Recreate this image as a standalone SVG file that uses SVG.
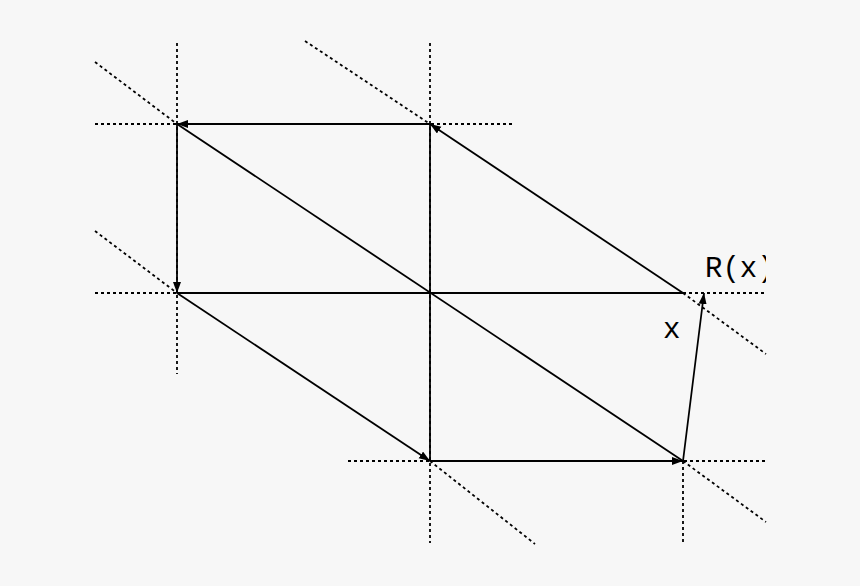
<svg xmlns="http://www.w3.org/2000/svg" width="860" height="586" viewBox="0 0 860 586">
<style>
.dot{stroke:#000;stroke-width:1.8;stroke-dasharray:3 3;fill:none}
.ln{stroke:#000;stroke-width:1.8;fill:none}
.arr{marker-end:url(#ah)}
.lbl{font-family:"Liberation Mono","DejaVu Sans Mono",monospace;font-size:29px;fill:#000}
</style>
<defs>
<marker id="ah" markerUnits="userSpaceOnUse" markerWidth="12" markerHeight="9" refX="11" refY="4" orient="auto">
<path d="M0,0 L11,4 L0,8 z" fill="#000"/>
</marker>
<clipPath id="clipR"><rect x="0" y="0" width="766" height="586"/></clipPath>
</defs>
<rect width="860" height="586" fill="#f7f7f7"/>
<g id="guides">
<line class="dot" x1="177" y1="43" x2="177" y2="374"/>
<line class="dot" x1="430" y1="43" x2="430" y2="543"/>
<line class="dot" x1="683" y1="461" x2="683" y2="543"/>
<line class="dot" x1="95" y1="124" x2="512" y2="124"/>
<line class="dot" x1="95" y1="293" x2="177" y2="293"/>
<line class="dot" x1="683" y1="293" x2="766" y2="293"/>
<line class="dot" x1="348" y1="461" x2="766" y2="461"/>
<line class="dot" x1="95" y1="62" x2="177" y2="124"/>
<line class="dot" x1="95" y1="231" x2="177" y2="293"/>
<line class="dot" x1="305" y1="41" x2="430" y2="124"/>
<line class="dot" x1="430" y1="461" x2="535" y2="544"/>
<line class="dot" x1="683" y1="293" x2="766" y2="354"/>
<line class="dot" x1="683" y1="461" x2="766" y2="522"/>
</g>
<g id="connectors">
<line class="ln" x1="177" y1="124" x2="683" y2="461"/>
<line class="ln" x1="177" y1="293" x2="683" y2="293"/>
<line class="ln" x1="430" y1="124" x2="430" y2="461"/>
<line class="ln arr" x1="430" y1="124" x2="177" y2="124"/>
<line class="ln arr" x1="177" y1="124" x2="177" y2="293"/>
<line class="ln arr" x1="177" y1="293" x2="430" y2="461"/>
<line class="ln arr" x1="430" y1="461" x2="683" y2="461"/>
<line class="ln arr" x1="683" y1="461" x2="704" y2="293"/>
<line class="ln arr" x1="683" y1="293" x2="430" y2="124"/>
</g>
<g id="labels">
<text class="lbl" x="705" y="277" clip-path="url(#clipR)">R(x)</text>
<text class="lbl" x="663" y="338">x</text>
</g>
</svg>
